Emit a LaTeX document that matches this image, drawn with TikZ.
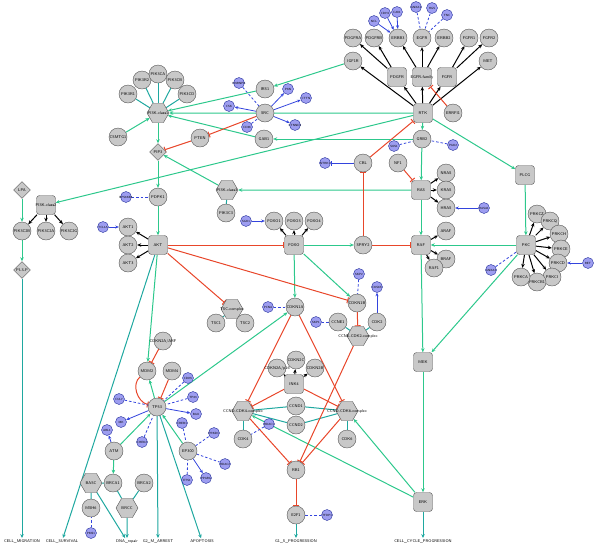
\documentclass[tikz,border=0pt]{standalone}
\usepackage{xcolor}
\usepackage{tikz}
\usetikzlibrary{arrows.meta,shapes.geometric,backgrounds}
\definecolor{actcol}{HTML}{2DC88C}
\definecolor{outcol}{HTML}{1FA8A0}
\definecolor{inhcol}{HTML}{E8462A}
\definecolor{blucol}{HTML}{3344DD}
\definecolor{gfill}{HTML}{C8C8C8}
\definecolor{bfill}{HTML}{9D9DF0}
\definecolor{bk60}{HTML}{555555}
\newcommand{\gfont}{\fontsize{4}{4.5}\selectfont\sffamily}
\newcommand{\bfont}{\fontsize{3}{3.5}\selectfont\sffamily}
\newcommand{\wide}[1]{\makebox[0pt]{#1}}
\tikzset{
  gene/.style={
    circle, draw=bk60, fill=gfill, thin,
    minimum size=18pt, inner sep=0pt, font=\gfont
  },
  grpbox/.style={
    rectangle, rounded corners=3pt, draw=bk60, fill=gfill, thin,
    minimum size=19pt, inner sep=0pt, font=\gfont
  },
  cplx/.style={
    regular polygon, regular polygon sides=6, draw=bk60, fill=gfill, thin,
    minimum size=22pt, inner sep=0pt, font=\gfont
  },
  metab/.style={
    diamond, draw=bk60, fill=gfill, thin,
    minimum size=17pt, inner sep=0pt, font=\gfont
  },
  extnode/.style={
    circle, draw=blucol!70!black, fill=bfill, thin,
    minimum size=11pt, inner sep=0pt, font=\bfont
  },
  outcome/.style={font=\gfont, inner sep=1pt},
  actarrow/.style={-{Stealth[length=4pt,width=3.5pt]}, line width=1pt, color=actcol},
  outarrow/.style={-{Stealth[length=4pt,width=3.5pt]}, line width=1pt, color=outcol},
  inharrow/.style={-{Bar[width=6pt,line width=1pt]}, line width=1pt, color=inhcol},
  member/.style={-{Stealth[length=4pt,width=3.5pt]}, line width=1pt, black},
  cpxline/.style={line width=1pt, color=outcol},
  extline/.style={-{Stealth[length=3.5pt,width=3pt]}, line width=0.8pt, color=blucol},
  extinh/.style={-{Bar[width=5pt,line width=0.8pt]}, line width=0.8pt, color=blucol},
  extdash/.style={line width=0.8pt, color=blucol, dash pattern=on 2.5pt off 2pt},
}

\begin{document}
\begin{tikzpicture}[x=1pt,y=-1pt]
  \useasboundingbox (0,0) rectangle (600,547);

  % receptor tyrosine kinases
  \node[gene] (pdgfra) at (353,38) {PDGFRA};
  \node[gene] (pdgfrb) at (374,38) {PDGFRB};
  \node[gene] (erbb3) at (398,38) {ERBB3};
  \node[gene] (egfr) at (422,38) {EGFR};
  \node[gene] (erbb2) at (444,38) {ERBB2};
  \node[gene] (fgfr1) at (469,38) {FGFR1};
  \node[gene] (fgfr2) at (489,38) {FGFR2};
  \node[gene] (met) at (488,61) {MET};
  \node[gene] (igf1r) at (353,61) {IGF1R};
  \node[grpbox] (pdgfr) at (397,77) {PDGFR};
  \node[grpbox] (egfrfam) at (422,77) {\wide{EGFR-family}};
  \node[grpbox] (fgfr) at (447,77) {FGFR};
  \node[grpbox] (rtk) at (423,113) {RTK};
  \node[gene] (errfi1) at (453,113) {ERRFI1};
  \node[extnode] (xncl) at (374,21) {NCL};
  \node[extnode] (xcdh1) at (385,13) {CDH1};
  \node[extnode] (xcav1) at (397,12) {CAV1};
  \node[extnode] (xanxa1) at (416,7) {ANXA1};
  \node[extnode] (xhgs) at (432,8) {HGS};
  \node[extnode] (xtnc) at (447,15) {TNC};

  % SRC / IRS1 / GAB1
  \node[gene] (irs1) at (265,89) {IRS1};
  \node[gene] (src) at (265,113) {SRC};
  \node[gene] (gab1) at (264,139) {GAB1};
  \node[gene] (grb2) at (422,139) {GRB2};
  \node[extnode] (xhnrnpk) at (239,83) {\wide{HNRNPK}};
  \node[extnode] (xpxn) at (288,89) {PXN};
  \node[extnode] (xcttn) at (306,98) {CTTN};
  \node[extnode] (xcsk) at (229,106) {CSK};
  \node[extnode] (xcd36) at (247,127) {CD36};
  \node[extnode] (xctnnd) at (295,125) {\wide{CTNND1}};
  \node[extnode] (xpak2) at (453,145) {PAK2};
  \node[extnode] (xsos1) at (394,146) {SOS1};

  % PI3K
  \node[cplx] (pi3kc1) at (158,113) {\wide{PI3K-class1}};
  \node[gene] (pik3r1) at (128,94) {PIK3R1};
  \node[gene] (pik3r2) at (142,80) {PIK3R2};
  \node[gene] (pik3ca) at (158,74) {PIK3CA};
  \node[gene] (pik3cb) at (175,80) {PIK3CB};
  \node[gene] (pik3cd) at (187,94) {PIK3CD};
  \node[gene] (csmtg1) at (118,137) {CSMTG1};
  \node[gene] (pten) at (200,138) {PTEN};
  \node[metab] (pip3) at (158,152) {PIP3};
  \node[gene] (pdpk1) at (158,197) {PDPK1};
  \node[extnode] (xrps6kb1) at (126,197) {\wide{RPS6KB1}};
  \node[metab] (lpa) at (22,190) {LPA};
  \node[grpbox] (pi3kc2) at (46,205) {\wide{PI3K-class2}};
  \node[gene] (pik3c2b) at (22,231) {\wide{PIK3C2B}};
  \node[gene] (pik3c2a) at (46,231) {\wide{PIK3C2A}};
  \node[gene] (pik3c2g) at (69,231) {\wide{PIK3C2G}};
  \node[metab] (pi3p) at (22,270) {\wide{PI-3-P}};
  \node[cplx] (pi3kc3) at (227,190) {\wide{PI3K-class3}};
  \node[gene] (pik3c3) at (226,213) {PIK3C3};

  % AKT / FOXO
  \node[grpbox] (akt) at (158,245) {AKT};
  \node[gene] (akt1) at (128,227) {AKT1};
  \node[gene] (akt2) at (128,245) {AKT2};
  \node[gene] (akt3) at (128,263) {AKT3};
  \node[extnode] (xtcl1a) at (103,227) {TCL1A};
  \node[grpbox] (foxo) at (294,245) {FOXO};
  \node[gene] (foxo1) at (274,221) {FOXO1};
  \node[gene] (foxo3) at (294,221) {FOXO3};
  \node[gene] (foxo4) at (314,221) {FOXO4};
  \node[extnode] (xsgk1) at (246,221) {SGK1};
  \node[gene] (spry2) at (363,245) {SPRY2};
  \node[gene] (cbl) at (363,163) {CBL};
  \node[extnode] (xntrk1) at (325,163) {NTRK1};
  \node[gene] (nf1) at (398,163) {NF1};

  % RAS / RAF / PKC
  \node[grpbox] (ras) at (421,190) {RAS};
  \node[gene] (nras) at (446,173) {NRAS};
  \node[gene] (kras) at (446,190) {KRAS};
  \node[gene] (hras) at (446,208) {HRAS};
  \node[extnode] (xrasa1) at (484,208) {RASA1};
  \node[grpbox] (raf) at (421,245) {RAF};
  \node[gene] (araf) at (446,231) {ARAF};
  \node[gene] (braf) at (446,259) {BRAF};
  \node[gene] (raf1) at (434,268) {RAF1};
  \node[grpbox] (plcg) at (525,175) {PLCG};
  \node[grpbox] (pkc) at (526,245) {PKC};
  \node[gene] (prkcz) at (537,214) {PRKCZ};
  \node[gene] (prkcq) at (550,221) {PRKCQ};
  \node[gene] (prkch) at (559,234) {PRKCH};
  \node[gene] (prkce) at (561,249) {PRKCE};
  \node[gene] (prkcd) at (558,263) {PRKCD};
  \node[gene] (prkci) at (552,277) {PRKCI};
  \node[gene] (prkcb1) at (537,282) {\wide{PRKCB1}};
  \node[gene] (prkca) at (521,277) {PRKCA};
  \node[extnode] (xret) at (588,263) {RET};
  \node[extnode] (xanxa2) at (491,270) {ANXA2};
  \node[grpbox] (mek) at (423,362) {MEK};
  \node[grpbox] (erk) at (423,502) {ERK};

  % cell cycle
  \node[cplx] (tsc) at (232,309) {\wide{TSC-complex}};
  \node[gene] (tsc1) at (216,323) {TSC1};
  \node[gene] (tsc2) at (245,323) {TSC2};
  \node[gene] (cdkn1a) at (295,307) {\wide{CDKN1A}};
  \node[extnode] (xpcna) at (268,307) {PCNA};
  \node[gene] (cdkn1b) at (357,303) {\wide{CDKN1B}};
  \node[extnode] (xskp2) at (359,274) {SKP2};
  \node[gene] (ccne1) at (338,322) {CCNE1};
  \node[extnode] (xskp1) at (316,322) {SKP1};
  \node[gene] (cdk2) at (377,322) {CDK2};
  \node[extnode] (xcks1b) at (377,287) {CKS1B};
  \node[cplx] (ccne) at (358,336) {\wide{CCNE-CDK2-complex}};
  \node[gene] (cdkn2c) at (296,360) {\wide{CDKN2C}};
  \node[gene] (cdkn2a) at (277,368) {\wide{CDKN2A/p16}};
  \node[gene] (cdkn2b) at (315,368) {\wide{CDKN2B}};
  \node[grpbox] (ink4) at (294,384) {INK4};
  \node[gene] (ccnd1) at (296,406) {CCND1};
  \node[gene] (ccnd2) at (296,425) {CCND2};
  \node[cplx] (ccndcdk4) at (243,411) {\wide{CCND-CDK4-complex}};
  \node[cplx] (ccndcdk6) at (347,411) {\wide{CCND-CDK6-complex}};
  \node[gene] (cdk4) at (243,439) {CDK4};
  \node[gene] (cdk6) at (347,439) {CDK6};
  \node[extnode] (xhdac) at (269,424) {HDAC1};
  \node[gene] (rb1) at (296,470) {RB1};
  \node[gene] (e2f1) at (296,515) {E2F1};
  \node[extnode] (xtfdp1) at (327,515) {TFDP1};

  % p53 / DNA repair
  \node[gene] (cdkn2aarf) at (163,341) {\wide{CDKN2A/ARF}};
  \node[gene] (mdm2) at (147,371) {MDM2};
  \node[gene] (mdm4) at (172,371) {MDM4};
  \node[gene] (tp53) at (157,407) {TP53};
  \node[extnode] (xcul7) at (119,399) {CUL7};
  \node[extnode] (xcdk5) at (188,378) {CDK5};
  \node[extnode] (xtp63) at (193,397) {TP63};
  \node[extnode] (xbax) at (196,414) {BAX};
  \node[extnode] (xmk) at (121,422) {MK};
  \node[gene] (atm) at (114,451) {ATM};
  \node[extnode] (xabl1) at (107,430) {ABL1};
  \node[extnode] (xchek2) at (142,442) {CHEK2};
  \node[gene] (ep300) at (188,451) {EP300};
  \node[extnode] (xcreb1) at (182,423) {CREB1};
  \node[extnode] (xets1) at (187,480) {ETS1};
  \node[extnode] (xprkdc) at (214,433) {PRKDC};
  \node[extnode] (xhdac2) at (225,464) {HDAC2};
  \node[extnode] (xpparg) at (206,478) {PPARG};
  \node[cplx] (basc) at (91,483) {BASC};
  \node[gene] (brca1) at (113,483) {BRCA1};
  \node[gene] (brca2) at (144,483) {BRCA2};
  \node[gene] (msh6) at (91,508) {MSH6};
  \node[cplx] (brcc) at (127,508) {BRCC};
  \node[extnode] (xpms1) at (91,533) {PMS1};

  % outcomes
  \node[outcome] (migr) at (22,541) {CELL\_MIGRATION};
  \node[outcome] (surv) at (62,541) {CELL\_SURVIVAL};
  \node[outcome] (dnarep) at (127,541) {DNA\_repair};
  \node[outcome] (gtwom) at (158,541) {G2\_M\_ARREST};
  \node[outcome] (apopt) at (202,541) {APOPTOSIS};
  \node[outcome] (gones) at (296,541) {G1\_S\_PROGRESSION};
  \node[outcome] (ccprog) at (423,541) {CELL\_CYCLE\_PROGRESSION};

  \begin{scope}[on background layer]
    % groups and their members
    \foreach \g/\m in {pdgfr/pdgfra, pdgfr/pdgfrb, egfrfam/erbb3, egfrfam/egfr,
        egfrfam/erbb2, fgfr/fgfr1, fgfr/fgfr2, rtk/pdgfr, rtk/egfrfam, rtk/fgfr,
        rtk/met, rtk/igf1r, pi3kc2/pik3c2b, pi3kc2/pik3c2a, pi3kc2/pik3c2g,
        akt/akt1, akt/akt2, akt/akt3, foxo/foxo1, foxo/foxo3, foxo/foxo4,
        ras/nras, ras/kras, ras/hras, raf/araf, raf/braf, raf/raf1,
        pkc/prkcz, pkc/prkcq, pkc/prkch, pkc/prkce, pkc/prkcd, pkc/prkci,
        pkc/prkcb1, pkc/prkca, ink4/cdkn2c, ink4/cdkn2a, ink4/cdkn2b}
      \draw[member] (\g) -- (\m);
    % complexes
    \foreach \c/\m in {pi3kc1/pik3r1, pi3kc1/pik3r2, pi3kc1/pik3ca, pi3kc1/pik3cb,
        pi3kc1/pik3cd, pi3kc3/pik3c3, tsc/tsc1, tsc/tsc2, ccne/ccne1, ccne/cdk2,
        ccndcdk4/ccnd1, ccndcdk4/ccnd2, ccndcdk4/cdk4, ccndcdk6/ccnd1,
        ccndcdk6/ccnd2, ccndcdk6/cdk6, basc/msh6, basc/brca1, brcc/brca1, brcc/brca2}
      \draw[cpxline] (\c) -- (\m);
    % activation
    \foreach \a/\b in {igf1r/irs1, irs1/pi3kc1, rtk/pi3kc1, gab1/pi3kc1,
        csmtg1/pi3kc1, rtk/pi3kc2, pi3kc1/pip3, pi3kc3/pip3, pip3/pdpk1,
        pdpk1/akt, lpa/pik3c2b, pik3c2b/pi3p, grb2/gab1, rtk/grb2, grb2/ras,
        ras/pi3kc3, ras/raf, raf/mek, mek/erk, rtk/plcg, plcg/pkc, pkc/raf,
        pkc/mek, akt/mdm2, foxo/spry2, foxo/cdkn1a, foxo/cdkn1b, tp53/mdm2,
        tp53/cdkn1a, atm/tp53, atm/brca1, ep300/tp53, erk/ccndcdk4, erk/ccndcdk6}
      \draw[actarrow] (\a) -- (\b);
    % inhibition
    \foreach \a/\b in {errfi1/egfrfam, cbl/rtk, spry2/cbl, spry2/raf, nf1/ras,
        src/pten, pten/pip3, akt/foxo, akt/tsc, akt/cdkn1b, cdkn2aarf/mdm2,
        mdm4/tp53, cdkn1b/ccne, cdkn1a/ccndcdk4, cdkn1a/ccndcdk6, ink4/ccndcdk4,
        ink4/ccndcdk6, ccndcdk4/rb1, ccndcdk6/rb1, ccne/rb1, rb1/e2f1}
      \draw[inharrow] (\a) -- (\b);
    \draw[inharrow] (mdm2) to[out=220,in=165] (tp53);
    % outcomes
    \draw[outarrow] (pi3p) -- (migr);
    \draw[outarrow] (akt) -- (surv);
    \draw[outarrow] (basc) -- (dnarep);
    \draw[outarrow] (brcc) -- (dnarep);
    \draw[outarrow] (tp53) -- (gtwom);
    \draw[outarrow] (tp53) -- (apopt);
    \draw[outarrow] (e2f1) -- (gones);
    \draw[outarrow] (erk) -- (ccprog);
    % interactors
    \foreach \x/\t in {xncl/erbb3, xcdh1/erbb3, xcav1/erbb3, src/xpxn, src/xcttn,
        src/xcsk, src/xctnnd, xrasa1/hras, xret/prkcd, xtcl1a/akt1, xsgk1/foxo1,
        cdk2/xcks1b, atm/xabl1, tp53/xmk, tp53/xbax, ep300/xpparg}
      \draw[extline] (\x) -- (\t);
    \foreach \x/\t in {xanxa1/egfr, xhgs/egfr, xtnc/egfr, xhnrnpk/src, xcd36/src,
        xpak2/grb2, xsos1/grb2, xanxa2/pkc, xrps6kb1/pdpk1, xskp2/cdkn1b,
        xskp1/ccne1, xpcna/cdkn1a, xhdac/cdk4, xtfdp1/e2f1, xcul7/tp53, xcdk5/tp53,
        xtp63/tp53, xchek2/tp53, xcreb1/ep300, xets1/ep300, ep300/xprkdc,
        ep300/xhdac2, xpms1/msh6}
      \draw[extdash] (\x) -- (\t);
    \draw[extinh] (cbl) -- (xntrk1);
  \end{scope}
\end{tikzpicture}
\end{document}
